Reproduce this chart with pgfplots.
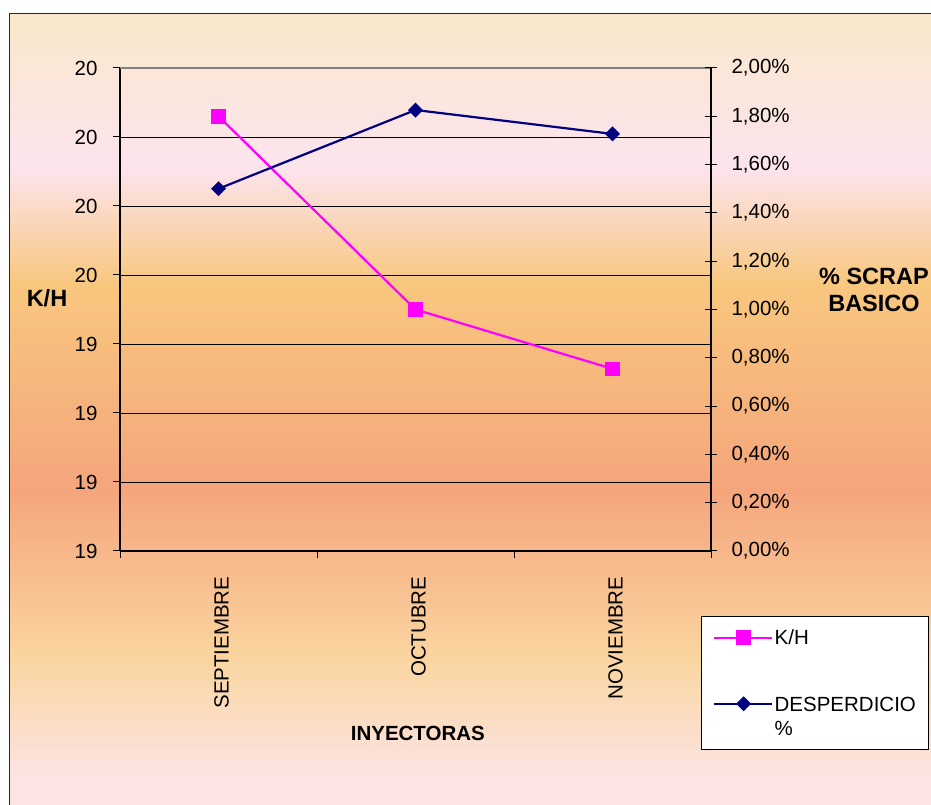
\documentclass[border=0pt]{standalone}
\usepackage{pgfplots}
\pgfplotsset{compat=1.18}
\usepackage{fontspec}
\setmainfont{Liberation Sans}

\definecolor{kh}{HTML}{FF00FF}
\definecolor{desp}{HTML}{000080}
\definecolor{bgA}{HTML}{FCE4E4}
\definecolor{bgB}{HTML}{FAD5A0}
\definecolor{bgC}{HTML}{F5A57C}
\definecolor{bgD}{HTML}{F8C77E}
\definecolor{bgE}{HTML}{FCE4EE}
\definecolor{bgF}{HTML}{FAE8CB}

% colours listed from bottom to top, the path covers 25bp..75bp
\pgfdeclareverticalshading{chartbg}{100bp}{color(0bp)=(bgA); color(26.7bp)=(bgA);
  color(34.3bp)=(bgB); color(44.9bp)=(bgC); color(57.9bp)=(bgD);
  color(65.3bp)=(bgE); color(75bp)=(bgF); color(100bp)=(bgF)}

\newcommand{\chartfont}{\fontsize{20.5}{24}\selectfont}
\newcommand{\bigfont}{\fontsize{23.5}{27}\selectfont}

\pgfplotstableread{
x kh
0 19.73
1 19.45
2 19.364
}\khdata

\pgfplotstableread{
x desp
0 1.500
1 1.826
2 1.727
}\despdata

\begin{document}
\begin{tikzpicture}
\useasboundingbox (0pt,0pt) rectangle (931pt,805pt);
\shade[shading=chartbg] (9pt,0pt) rectangle (931pt,791pt);
\draw[black!85, line width=1pt] (9pt,0pt) -- (9pt,791pt) -- (931pt,791pt);

\begin{axis}[
  at={(120pt,254pt)}, anchor=south west,
  scale only axis, width=591pt, height=483pt,
  xmin=-0.5, xmax=2.5, ymin=19.1, ymax=19.8,
  axis x line*=bottom, axis y line*=left,
  axis line style={black, line width=1.2pt},
  ytick={19.1,19.2,19.3,19.4,19.5,19.6,19.7},
  yticklabels={19,19,19,19,20,20,20},
  extra y ticks={19.8}, extra y tick labels={20},
  extra y tick style={major grid style={black!50, line width=1.6pt}},
  ymajorgrids, major grid style={black, line width=0.9pt},
  tick align=outside, major tick length=7pt,
  tick style={black, line width=1pt},
  xtick={-0.5,0.5,1.5,2.5}, xticklabels={},
  extra x ticks={0,1,2},
  extra x tick labels={SEPTIEMBRE,OCTUBRE,NOVIEMBRE},
  extra x tick style={tick style={draw=none}},
  xticklabel style={yshift=-15pt, xshift=3pt, rotate=90, anchor=east},
  ticklabel style={font=\chartfont},
  yticklabel style={xshift=-12pt},
  /pgf/number format/assume math mode=true,
  xlabel={INYECTORAS}, ylabel={K/H},
  every axis x label/.style={at={(axis description cs:0.504,-0.377)}, anchor=center, font=\chartfont\bfseries},
  every axis y label/.style={at={(axis description cs:-0.1235,0.524)}, anchor=center, font=\bigfont\bfseries},
]
\addplot[kh, line width=2.2pt, mark=square*, mark size=6.2pt, mark options={solid}]
  table[x=x, y=kh] {\khdata};
\end{axis}

\begin{axis}[
  at={(120pt,254pt)}, anchor=south west,
  scale only axis, width=591pt, height=483pt,
  xmin=-0.5, xmax=2.5, ymin=0, ymax=2,
  axis x line=none, axis y line*=right,
  axis line style={black, line width=1.2pt},
  ytick={0,0.2,0.4,0.6,0.8,1.0,1.2,1.4,1.6,1.8,2.0},
  yticklabels={{0,00\%},{0,20\%},{0,40\%},{0,60\%},{0,80\%},{1,00\%},{1,20\%},{1,40\%},{1,60\%},{1,80\%},{2,00\%}},
  tick align=center, major tick length=12pt,
  tick style={black, line width=1pt},
  ticklabel style={font=\chartfont},
  yticklabel style={xshift=11pt},
  /pgf/number format/assume math mode=true,
  ylabel={\% SCRAP\\BASICO},
  every axis y label/.style={at={(axis description cs:1.2758,0.5414)}, anchor=center, align=center, font=\bigfont\bfseries},
  legend style={at={(axis description cs:0.983,-0.1346)}, anchor=north west,
    draw=black, line width=1pt, fill=white, font=\chartfont,
    inner xsep=11pt, inner ysep=10pt, row sep=45pt,
    nodes={inner xsep=2pt, inner ysep=3pt, align=left}},
  legend cell align=left,
  legend image code/.code={\path (0pt,0pt) -- (58pt,0pt);
    \draw[mark repeat=2, mark phase=2, line width=2.2pt]
    plot coordinates {(4pt,0pt) (30pt,0pt) (56pt,0pt)};},
]
\addlegendimage{kh, line width=2.2pt, mark=square*, mark size=6.2pt}
\addlegendentry{K/H}
\addplot[desp, line width=2.2pt, mark=square*, mark size=4.2pt, mark options={rotate=45, solid},
  legend image code/.code={\path (0pt,13pt) -- (58pt,13pt);
    \draw[mark repeat=2, mark phase=2, line width=2.2pt]
    plot coordinates {(4pt,13pt) (30pt,13pt) (56pt,13pt)};}]
  table[x=x, y=desp] {\despdata};
\addlegendentry{DESPERDICIO\\\%}
\end{axis}
\end{tikzpicture}
\end{document}
